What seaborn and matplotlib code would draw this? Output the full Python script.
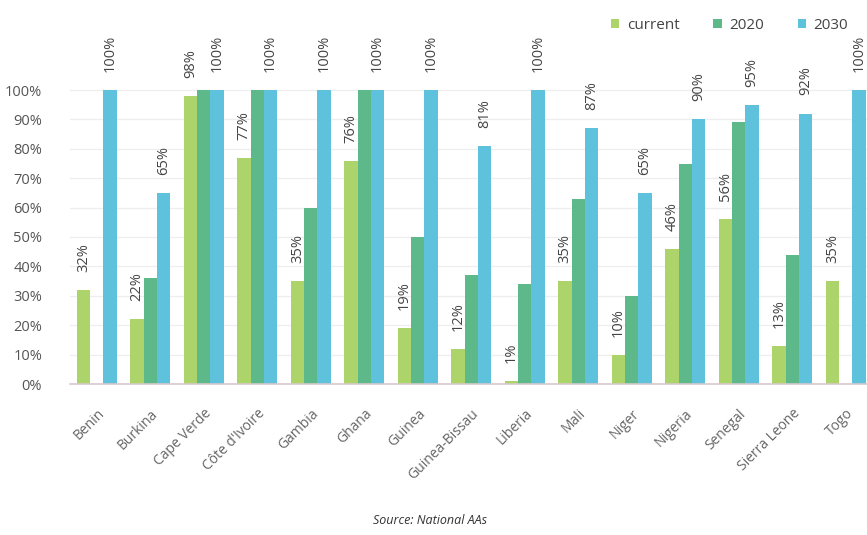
import matplotlib
matplotlib.use("Agg")
import matplotlib.pyplot as plt
import seaborn as sns
import pandas as pd
import numpy as np

# Electricity access targets by country (percent)
countries = ["Benin", "Burkina", "Cape Verde", "Côte d'Ivoire", "Gambia", "Ghana",
             "Guinea", "Guinea-Bissau", "Liberia", "Mali", "Niger", "Nigeria",
             "Senegal", "Sierra Leone", "Togo"]
current = [32, 22, 98, 77, 35, 76, 19, 12, 1, 35, 10, 46, 56, 13, 35]
target_2020 = [np.nan, 36, 100, 100, 60, 100, 50, 37, 34, 63, 30, 75, 89, 44, np.nan]
target_2030 = [100, 65, 100, 100, 100, 100, 100, 81, 100, 87, 65, 90, 95, 92, 100]
series = ["current", "2020", "2030"]
y_ticks = list(range(0, 101, 10))
source_note = "Source: National AAs"

colors = ["#acd46a", "#5db88a", "#5ec2dc"]
text_color = "#555555"

df = pd.DataFrame({
    "country": countries * 3,
    "series": sum([[s] * len(countries) for s in series], []),
    "value": current + target_2020 + target_2030,
})

sns.set_theme(style="white")
plt.rcParams["font.family"] = ["Open Sans", "DejaVu Sans"]

W, H = 867, 535
fig = plt.figure(figsize=(W / 100, H / 100), dpi=100)
fig.patch.set_facecolor("white")

# Axes in pixel terms: left edge at 70, baseline at 384, 100% line at 90
left_px, base_px, top_px = 70, 384, 90
ymax = 102
px_per_unit = (base_px - top_px) / 100
ax_top = base_px - ymax * px_per_unit
n = len(countries)
group_px = 53.5
right_px = left_px + group_px * n
ax = fig.add_axes([left_px / W, (H - base_px) / H,
                   (right_px - left_px) / W, (base_px - ax_top) / H])

sns.barplot(data=df, x="country", y="value", hue="series", hue_order=series,
            order=countries, palette=colors, saturation=1, width=0.75,
            linewidth=0, errorbar=None, ax=ax, legend=True)

ax.set_xlim(-0.5, n - 0.5)
ax.set_ylim(0, ymax)
ax.set_yticks(y_ticks)
ax.set_yticklabels([f"{t}%" for t in y_ticks])
ax.set_xlabel("")
ax.set_ylabel("")

ax.grid(axis="y", color="#eeeeee", linewidth=0.9)
ax.set_axisbelow(True)
for s in ["top", "right", "left"]:
    ax.spines[s].set_visible(False)
ax.spines["bottom"].set_color("#d8c8cc")
ax.spines["bottom"].set_linewidth(1.2)

ax.tick_params(axis="y", length=0, pad=20, labelsize=10.5, labelcolor=text_color)
ax.tick_params(axis="x", length=0, pad=16, labelsize=10, labelcolor="#666666")
for lbl in ax.get_xticklabels():
    lbl.set_rotation(45)
    lbl.set_ha("right")
    lbl.set_rotation_mode("anchor")

# Value labels on the current and 2030 bars
label_values = {"current": current, "2030": target_2030}
for container, name in zip(ax.containers, series):
    if name not in label_values:
        continue
    vals = label_values[name]
    ax.bar_label(container, labels=[f"{v:.0f}%" for v in vals], rotation=90,
                 padding=13, fontsize=10.5, color="#444444")

# Legend across the top right
handles, labels = ax.get_legend_handles_labels()
ax.get_legend().remove()
fig.legend(handles, labels, loc="upper right", bbox_to_anchor=(862 / W, 1 - 4 / H),
           ncol=3, frameon=False, handlelength=0.55, handleheight=0.55,
           handletextpad=0.5, columnspacing=2.2, fontsize=11,
           labelcolor="#444444")

fig.text(430 / W, 1 - 520 / H, source_note, ha="center", va="center",
         fontsize=9, style="italic", color="#333333")

fig.savefig("out.png", dpi=100, facecolor="white")
